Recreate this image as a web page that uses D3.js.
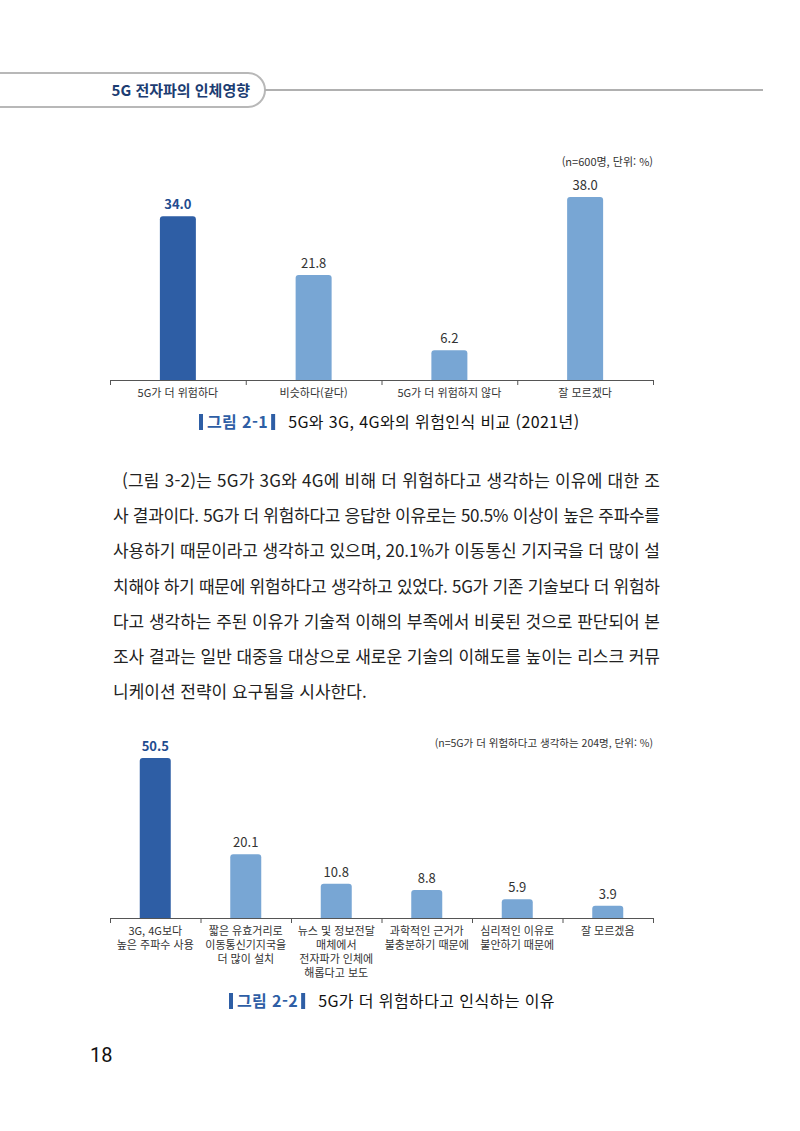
<!DOCTYPE html>
<html lang="ko">
<head>
<meta charset="utf-8">
<title>5G 전자파의 인체영향</title>
<script src="https://cdn.jsdelivr.net/npm/d3@7"></script>
<style>
  body { margin: 0; background: #fff; }
  svg text { font-family: "Noto Sans CJK KR", "Noto Sans", sans-serif; }
</style>
</head>
<body>
<script>
// chart 1 data
var cats1 = ["5G가 더 위험하다", "비슷하다(같다)", "5G가 더 위험하지 않다", "잘 모르겠다"];
var vals1 = [34.0, 21.8, 6.2, 38.0];
var note1 = "(n=600명, 단위: %)";

// chart 2 data
var cats2 = [
  ["3G, 4G보다", "높은 주파수 사용"],
  ["짧은 유효거리로", "이동통신기지국을", "더 많이 설치"],
  ["뉴스 및 정보전달", "매체에서", "전자파가 인체에", "해롭다고 보도"],
  ["과학적인 근거가", "불충분하기 때문에"],
  ["심리적인 이유로", "불안하기 때문에"],
  ["잘 모르겠음"]
];
var vals2 = [50.5, 20.1, 10.8, 8.8, 5.9, 3.9];
var note2 = "(n=5G가 더 위험하다고 생각하는 204명, 단위: %)";

var paragraph = [
  "(그림 3-2)는 5G가 3G와 4G에 비해 더 위험하다고 생각하는 이유에 대한 조",
  "사 결과이다. 5G가 더 위험하다고 응답한 이유로는 50.5% 이상이 높은 주파수를",
  "사용하기 때문이라고 생각하고 있으며, 20.1%가 이동통신 기지국을 더 많이 설",
  "치해야 하기 때문에 위험하다고 생각하고 있었다. 5G가 기존 기술보다 더 위험하",
  "다고 생각하는 주된 이유가 기술적 이해의 부족에서 비롯된 것으로 판단되어 본",
  "조사 결과는 일반 대중을 대상으로 새로운 기술의 이해도를 높이는 리스크 커뮤",
  "니케이션 전략이 요구됨을 시사한다."
];

var w = 800, h = 1131;
var dark = "#2e5ea5", light = "#78a6d4", darkText = "#1f4c8f";

var svg = d3.select("body").append("svg")
  .attr("width", w)
  .attr("height", h);

// header pill + rule
svg.append("path")
  .attr("d", "M-10,73 H248 A17,17 0 0 1 248,107 H-10")
  .attr("fill", "#fff")
  .attr("stroke", "#b8b8b8")
  .attr("stroke-width", 2);
svg.append("line")
  .attr("x1", 265).attr("x2", 763)
  .attr("y1", 90).attr("y2", 90)
  .attr("stroke", "#b0b0b0")
  .attr("stroke-width", 2);
svg.append("text")
  .attr("x", 250).attr("y", 96)
  .attr("text-anchor", "end")
  .attr("font-size", 15)
  .attr("font-weight", "bold")
  .attr("fill", "#1c3d72")
  .text("5G 전자파의 인체영향");

// bar with rounded top corners
function barPath(x, y, bw, bh, r) {
  r = Math.min(r, bh);
  return "M" + x + "," + (y + bh) +
    "V" + (y + r) +
    "Q" + x + "," + y + " " + (x + r) + "," + y +
    "H" + (x + bw - r) +
    "Q" + (x + bw) + "," + y + " " + (x + bw) + "," + (y + r) +
    "V" + (y + bh) + "Z";
}

function drawChart(opt) {
  var g = svg.append("g");
  var n = opt.vals.length;
  var x = d3.scaleBand()
    .domain(d3.range(n))
    .range([opt.x0, opt.x1]);
  var xt = d3.scaleLinear()
    .domain([0, n])
    .range([opt.x0, opt.x1]);
  var y = d3.scaleLinear()
    .domain([0, opt.maxV])
    .range([opt.base, opt.top]);

  g.selectAll("path.bar")
    .data(opt.vals)
    .enter()
    .append("path")
    .attr("class", "bar")
    .attr("d", function(d, i) {
      var cx = x(i) + x.bandwidth() / 2;
      return barPath(cx - opt.bw / 2, y(d), opt.bw, opt.base - y(d), 3);
    })
    .attr("fill", function(d, i) { return i === 0 ? dark : light; });

  g.selectAll("text.val")
    .data(opt.vals)
    .enter()
    .append("text")
    .attr("class", "val")
    .attr("x", function(d, i) { return x(i) + x.bandwidth() / 2; })
    .attr("y", function(d) { return y(d) - 7; })
    .attr("text-anchor", "middle")
    .attr("font-size", 13)
    .attr("font-weight", function(d, i) { return i === 0 ? "bold" : "normal"; })
    .attr("fill", function(d, i) { return i === 0 ? darkText : "#333"; })
    .text(function(d) { return d.toFixed(1); });

  // axis with ticks at band boundaries
  var axis = d3.axisBottom(xt)
    .tickValues(d3.range(n + 1))
    .tickSizeInner(5)
    .tickSizeOuter(0)
    .tickFormat("");
  var ax = g.append("g")
    .attr("transform", "translate(0," + opt.base + ")")
    .call(axis);
  ax.select(".domain").attr("stroke", "#555");
  ax.selectAll(".tick line").attr("stroke", "#555");

  // category labels (possibly multiline)
  var lab = g.selectAll("text.cat")
    .data(opt.cats)
    .enter()
    .append("text")
    .attr("class", "cat")
    .attr("text-anchor", "middle")
    .attr("font-size", 11)
    .attr("fill", "#333")
    .attr("transform", function(d, i) {
      return "translate(" + (x(i) + x.bandwidth() / 2) + "," + (opt.base + 17) + ")";
    });
  lab.selectAll("tspan")
    .data(function(d) { return Array.isArray(d) ? d : [d]; })
    .enter()
    .append("tspan")
    .attr("x", 0)
    .attr("y", function(d, j) { return j * 14; })
    .text(function(d) { return d; });

  // note top right
  g.append("text")
    .attr("x", opt.x1)
    .attr("y", opt.noteY)
    .attr("text-anchor", "end")
    .attr("font-size", opt.noteSize)
    .attr("fill", "#333")
    .text(opt.note);
}

drawChart({ vals: vals1, cats: cats1, x0: 110, x1: 653, base: 380, top: 197, maxV: 38,
  bw: 36, note: note1, noteY: 166, noteSize: 11 });
drawChart({ vals: vals2, cats: cats2, x0: 110, x1: 653, base: 918, top: 758, maxV: 50.5,
  bw: 31, note: note2, noteY: 747, noteSize: 10.5 });

// figure captions
function caption(xs, yb, num, title) {
  var g = svg.append("g");
  g.append("rect").attr("x", xs).attr("y", yb - 14).attr("width", 4).attr("height", 16).attr("fill", dark);
  var t = g.append("text")
    .attr("x", xs + 8).attr("y", yb)
    .attr("font-size", 16)
    .attr("font-weight", "bold")
    .attr("letter-spacing", 0.4)
    .attr("fill", dark)
    .text(num);
  var tw = t.node().getComputedTextLength();
  g.append("rect").attr("x", xs + 8 + tw + 3).attr("y", yb - 14).attr("width", 4).attr("height", 16).attr("fill", dark);
  g.append("text")
    .attr("x", xs + 8 + tw + 20).attr("y", yb)
    .attr("font-size", 16)
    .attr("letter-spacing", 0.4)
    .attr("fill", "#111")
    .text(title);
}
caption(199, 428, "그림 2-1", "5G와 3G, 4G와의 위험인식 비교 (2021년)");
caption(229, 1007, "그림 2-2", "5G가 더 위험하다고 인식하는 이유");

// body paragraph, justified lines
svg.selectAll("text.para")
  .data(paragraph)
  .enter()
  .append("text")
  .attr("class", "para")
  .attr("x", function(d, i) { return i === 0 ? 122 : 113; })
  .attr("y", function(d, i) { return 487 + i * 35.2; })
  .attr("font-size", 17)
  .attr("fill", "#222")
  .attr("textLength", function(d, i) { return i === paragraph.length - 1 ? null : (i === 0 ? 538 : 547); })
  .attr("lengthAdjust", "spacing")
  .text(function(d) { return d; });

// page number
svg.append("text")
  .attr("x", 90).attr("y", 1062)
  .attr("font-size", 20)
  .attr("fill", "#111")
  .style("font-family", "Roboto, sans-serif")
  .text("18");
</script>
</body>
</html>
